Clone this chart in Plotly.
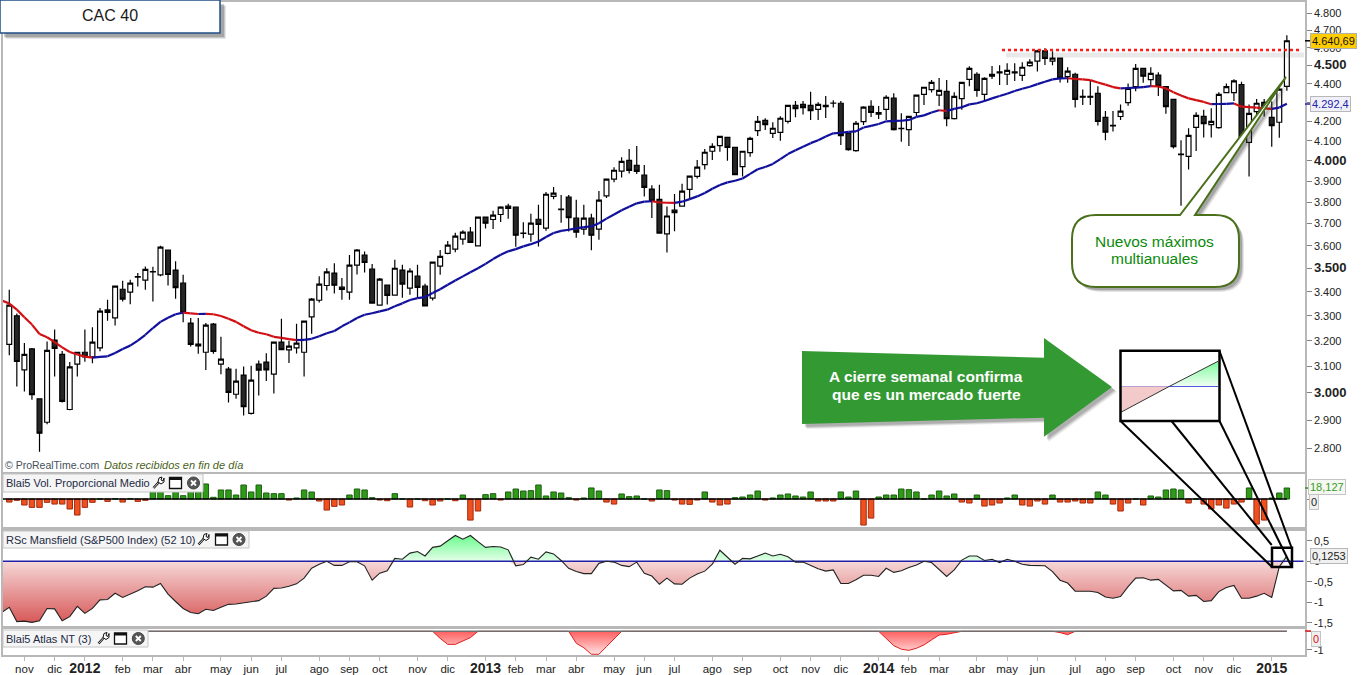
import numpy as np
import plotly.graph_objects as go
from plotly.subplots import make_subplots

W, H = 1361, 675
FONT = "Liberation Sans"
weeks = list(range(170))
lead_weeks = [-1] + weeks

open_vals = [
    3186, 3301, 3087, 3168, 2978, 2893, 3203, 3147, 2939, 3109,
    3155, 3137, 3172, 3325, 3292, 3411, 3399, 3463, 3450, 3485,
    3472, 3581, 3493, 3437, 3271, 3180, 3155, 3267, 3109, 3090,
    2995, 3067, 2925, 3109, 3117, 3071, 3195, 3164, 3172, 3155,
    3296, 3365, 3427, 3480, 3420, 3399, 3515, 3559, 3497, 3345,
    3429, 3386, 3493, 3416, 3467, 3424, 3374, 3510, 3566, 3585,
    3630, 3661, 3599, 3730, 3719, 3742, 3781, 3776, 3655, 3652,
    3720, 3679, 3827, 3765, 3824, 3725, 3675, 3725, 3675, 3829,
    3910, 3949, 4002, 3977, 3929, 3862, 3813, 3653, 3762, 3781,
    3860, 3923, 3981, 4047, 4075, 4117, 4067, 3971, 4040, 4152,
    4205, 4138, 4143, 4200, 4284, 4289, 4284, 4263, 4284, 4295,
    4295, 4139, 4050, 4198, 4279, 4237, 4263, 4322, 4162, 4157,
    4246, 4343, 4368, 4338, 4359, 4214, 4320, 4424, 4452, 4343,
    4452, 4465, 4452, 4465, 4446, 4500, 4525, 4583, 4525, 4542,
    4439, 4452, 4332, 4332, 4348, 4221, 4179, 4225, 4298, 4384,
    4485, 4423, 4448, 4384, 4316, 4030, 4021, 4169, 4226, 4183,
    4167, 4352, 4352, 4396, 4092, 4251, 4300, 4221, 4195, 4386,
]
high_vals = [
    3409, 3310, 3191, 3172, 2978, 3197, 3245, 3160, 3117, 3155,
    3245, 3254, 3333, 3367, 3426, 3447, 3451, 3480, 3509, 3507,
    3600, 3582, 3532, 3473, 3292, 3292, 3271, 3271, 3216, 3098,
    3091, 3100, 3103, 3123, 3151, 3195, 3289, 3200, 3268, 3279,
    3374, 3466, 3501, 3523, 3459, 3559, 3585, 3574, 3519, 3459,
    3430, 3538, 3516, 3501, 3516, 3434, 3528, 3581, 3621, 3658,
    3670, 3685, 3730, 3730, 3759, 3781, 3792, 3776, 3706, 3745,
    3788, 3848, 3872, 3834, 3833, 3811, 3788, 3745, 3853, 3911,
    3968, 4017, 4058, 4073, 3979, 3880, 3882, 3779, 3838, 3887,
    3926, 4003, 4058, 4087, 4124, 4119, 4070, 4047, 4121, 4228,
    4216, 4195, 4226, 4286, 4307, 4307, 4356, 4300, 4334, 4311,
    4307, 4141, 4202, 4279, 4311, 4281, 4338, 4349, 4242, 4226,
    4338, 4381, 4420, 4431, 4420, 4354, 4407, 4496, 4463, 4435,
    4498, 4502, 4513, 4513, 4519, 4536, 4589, 4598, 4581, 4544,
    4491, 4461, 4369, 4420, 4387, 4254, 4254, 4289, 4402, 4509,
    4485, 4491, 4463, 4387, 4318, 4103, 4164, 4247, 4260, 4269,
    4354, 4402, 4424, 4411, 4289, 4318, 4318, 4304, 4375, 4672,
]
low_vals = [
    3143, 3024, 3005, 2975, 2789, 2886, 3062, 2965, 2936, 3062,
    3118, 3112, 3159, 3281, 3261, 3360, 3348, 3423, 3409, 3360,
    3466, 3427, 3371, 3274, 3178, 3149, 3086, 3149, 3070, 2965,
    2978, 2917, 2921, 2990, 3045, 2998, 3164, 3113, 3150, 3062,
    3228, 3356, 3406, 3393, 3367, 3367, 3474, 3483, 3352, 3344,
    3347, 3385, 3375, 3388, 3374, 3340, 3364, 3473, 3562, 3571,
    3604, 3613, 3597, 3678, 3676, 3708, 3722, 3596, 3633, 3618,
    3597, 3667, 3813, 3704, 3664, 3636, 3649, 3580, 3627, 3819,
    3894, 3918, 3937, 3935, 3827, 3726, 3655, 3570, 3665, 3780,
    3814, 3913, 3956, 4003, 4045, 4000, 3931, 3923, 4020, 4124,
    4155, 4114, 4100, 4188, 4221, 4235, 4207, 4207, 4217, 4272,
    4079, 4050, 4045, 4181, 4223, 4212, 4207, 4152, 4095, 4073,
    4225, 4286, 4352, 4281, 4175, 4210, 4260, 4387, 4330, 4304,
    4426, 4393, 4393, 4415, 4415, 4494, 4467, 4504, 4502, 4407,
    4405, 4272, 4286, 4286, 4178, 4103, 4147, 4207, 4282, 4359,
    4405, 4389, 4334, 4239, 4061, 3783, 3956, 4048, 4117, 4117,
    4162, 4348, 4307, 4095, 3922, 4225, 4225, 4070, 4115, 4362,
]
close_vals = [
    3345, 3119, 3147, 2994, 2854, 3162, 3170, 2969, 3098, 3155,
    3137, 3195, 3320, 3315, 3424, 3370, 3437, 3465, 3496, 3487,
    3594, 3474, 3418, 3315, 3186, 3187, 3263, 3158, 3128, 3002,
    3044, 2949, 3048, 3086, 3087, 3195, 3165, 3179, 3191, 3279,
    3370, 3433, 3485, 3428, 3410, 3515, 3581, 3526, 3353, 3454,
    3385, 3501, 3433, 3489, 3419, 3341, 3528, 3553, 3603, 3643,
    3661, 3615, 3730, 3702, 3739, 3776, 3770, 3647, 3657, 3702,
    3696, 3837, 3842, 3767, 3728, 3661, 3725, 3647, 3809, 3910,
    3953, 3997, 3952, 3947, 3870, 3805, 3657, 3735, 3751, 3852,
    3924, 3968, 4042, 4072, 4122, 4067, 3932, 4047, 4112, 4200,
    4183, 4164, 4216, 4284, 4266, 4272, 4256, 4289, 4277, 4296,
    4126, 4055, 4190, 4274, 4246, 4246, 4327, 4157, 4164, 4226,
    4338, 4381, 4407, 4364, 4214, 4332, 4407, 4485, 4364, 4429,
    4441, 4459, 4474, 4459, 4491, 4519, 4583, 4540, 4542, 4431,
    4469, 4316, 4327, 4327, 4199, 4144, 4176, 4253, 4375, 4485,
    4441, 4457, 4387, 4277, 4070, 4033, 4127, 4231, 4188, 4200,
    4343, 4384, 4416, 4100, 4242, 4295, 4274, 4178, 4371, 4640.69,
]
# moving average, starts one week before the first candle in view
ma_vals = [
    3364, 3351, 3326, 3295, 3265, 3227, 3214, 3195, 3174, 3156,
    3146, 3138, 3134, 3137, 3139, 3152, 3168, 3181, 3201, 3224,
    3251, 3276, 3293, 3307, 3314, 3311, 3308, 3309, 3307, 3300,
    3289, 3276, 3258, 3242, 3232, 3226, 3216, 3212, 3207, 3203,
    3204, 3208, 3218, 3230, 3239, 3258, 3274, 3292, 3305, 3311,
    3319, 3326, 3340, 3352, 3366, 3374, 3378, 3395, 3411, 3430,
    3448, 3466, 3484, 3501, 3520, 3541, 3560, 3575, 3585, 3597,
    3607, 3619, 3639, 3657, 3667, 3672, 3678, 3684, 3687, 3702,
    3723, 3742, 3762, 3778, 3794, 3802, 3804, 3798, 3797, 3796,
    3802, 3814, 3827, 3843, 3863, 3881, 3894, 3902, 3913, 3935,
    3958, 3969, 3984, 4008, 4033, 4052, 4070, 4088, 4103, 4122,
    4138, 4141, 4145, 4148, 4168, 4176, 4186, 4200, 4202, 4203,
    4207, 4223, 4231, 4246, 4258, 4254, 4265, 4274, 4289, 4295,
    4307, 4321, 4334, 4346, 4361, 4373, 4384, 4398, 4411, 4424,
    4429, 4430, 4426, 4424, 4420, 4407, 4395, 4382, 4375, 4377,
    4379, 4382, 4387, 4385, 4375, 4354, 4336, 4321, 4312, 4302,
    4290, 4291, 4292, 4294, 4277, 4274, 4272, 4268, 4265, 4272,
    4292.4,
]
vol_vals = [
    -5, -2.2, -9.9, -13.8, -13.8, -5.5, -8.3, -8.3, -16.5, -26.4,
    -13.8, -5.5, 0, -3.9, 0.3, -5, 0.3, -3.9, -2.2, 12.1,
    13.8, 5.5, 15.4, 5.5, 13.8, 15.4, 24.8, 2.8, 14.9, 14.9,
    6.6, 23.1, 11.6, 23.1, 9.9, 8.8, 8.8, -1.7, 1.7, 14.9,
    11.6, -3.3, -18.2, -12.1, -9.9, 6.6, 16.5, 14.9, 2.2, -1.7,
    -2.8, 8.8, 0, -13.2, 0, -2.8, -9.9, -3.3, 0, -2.8,
    6.6, -34.7, -19.8, 7.2, 8.8, -1.7, 11.6, 16.5, 13.2, 13.8,
    23.1, 5, 11.6, 9.9, 2.2, -1.7, 1.7, 18.2, 13.2, -5,
    -8.3, 8.3, 3.9, 5, 0, -3.3, 14.9, 13.8, -1.7, -8.3,
    -8.8, -1.7, 11.6, -5, -9.9, -8.3, 2.2, 3.3, 6.6, 13.2,
    -1.7, 1.7, 6.6, 8.3, 5, 3.3, 11.6, -3.3, -3.3, -3.3,
    11.6, 3.3, 13.2, -42.9, -31.4, 3.3, 6.6, 6.6, 16.5, 15.4,
    11.6, 0, 6.6, 13.2, 5, 8.3, -5, -6.6, 6.6, -11.6,
    -9.9, -6.6, 1.7, 6.6, -9.9, -11.6, -3.3, -8.3, 6.6, -5,
    -5, -3.3, -6.6, -6.6, 11.6, 6.6, -8.3, -19.8, -6.6, 0,
    -9.9, 5, 3.3, 14.9, 16.5, 14.9, -6.6, 0, -8.3, -16.5,
    -9.9, -14.9, -8.3, -5, 18.2, -41.3, -34.7, 1.7, 9.9, 18.127,
]
# Mansfield relative strength, also starts one week early
rsc_vals = [
    -1.25, -1.12, -1.47, -1.46, -1.49, -1.45, -1.15, -1.16, -1.45, -1.35,
    -1.10, -1.27, -1.15, -0.94, -0.93, -0.78, -0.88, -0.80, -0.72, -0.62,
    -0.63, -0.54, -0.80, -0.98, -1.15, -1.25, -1.28, -1.17, -1.20, -1.12,
    -1.05, -1.04, -1.01, -0.98, -0.96, -0.85, -0.66, -0.65, -0.61, -0.55,
    -0.41, -0.17, -0.07, 0, -0.10, -0.10, -0.01, -0.01, -0.11, -0.46,
    -0.29, -0.23, 0.07, 0.05, 0.20, 0.24, 0.13, 0.34, 0.37, 0.50,
    0.63, 0.54, 0.63, 0.48, 0.34, 0.36, 0.35, 0.28, -0.11, -0.08,
    0.10, 0.05, 0.23, 0.18, 0.02, -0.17, -0.25, -0.30, -0.30, -0.05,
    0, -0.02, -0.10, -0.13, -0.02, -0.29, -0.36, -0.56, -0.41, -0.55,
    -0.56, -0.41, -0.31, -0.24, -0.07, 0.27, 0.10, -0.07, 0.07, 0.06,
    0.13, 0.20, 0.13, 0.17, 0.11, -0.02, -0.02, -0.11, -0.18, -0.24,
    -0.21, -0.54, -0.54, -0.45, -0.34, -0.34, -0.37, -0.17, -0.27, -0.23,
    -0.15, -0.09, 0, -0.03, -0.19, -0.37, -0.21, 0.03, 0.13, 0.13,
    0.02, 0.05, -0.03, 0.05, 0, -0.07, -0.10, -0.10, -0.11, -0.25,
    -0.46, -0.53, -0.73, -0.73, -0.73, -0.76, -0.87, -0.90, -0.86, -0.62,
    -0.41, -0.40, -0.46, -0.44, -0.58, -0.72, -0.71, -0.85, -0.83, -0.98,
    -0.96, -0.74, -0.64, -0.59, -0.90, -0.90, -0.85, -0.78, -0.88, -0.13,
    0.1253,
]
atlas_vals = (
    [0] * 57 + [-0.38, -0.70, -0.70, -0.54, -0.34]
    + [0] * 13 + [-0.64, -0.88, -1.23, -1.23, -0.82, -0.43]
    + [0] * 35 + [-0.38, -0.77, -0.96, -1.02, -0.91, -0.73, -0.46, -0.20, -0.16, -0.07]
    + [0] * 13 + [-0.07, -0.18]
    + [0] * 29
)

tick_weeks = [2, 6, 10, 15, 19, 23, 28, 32, 36, 41, 45, 49, 54, 58, 63, 67, 71, 75, 80, 84, 88,
              93, 97, 102, 106, 110, 115, 119, 123, 128, 132, 136, 141, 145, 149, 154, 158, 162, 167]
tick_labels = ["nov", "dic", "2012", "feb", "mar", "abr", "may", "jun", "jul", "ago", "sep", "oct", "nov", "dic",
               "2013", "feb", "mar", "abr", "may", "jun", "jul", "ago", "sep", "oct", "nov", "dic",
               "2014", "feb", "mar", "abr", "may", "jun", "jul", "ago", "sep", "oct", "nov", "dic", "2015"]
price_ticks = list(range(2800, 4900, 100))
rsc_ticks = [0.5, 0, -0.5, -1, -1.5]
rsc_labels = ["0,5", "0", "-0,5", "-1", "-1,5"]


def px(x):
    return x / W


def py(y):
    return 1 - y / H


def poly(points, dx=0, dy=0):
    return "M" + " L".join(f"{px(x + dx):.5f},{py(y + dy):.5f}" for x, y in points) + " Z"


def domain_y(top, bottom):
    return [py(bottom), py(top)]


fig = make_subplots(rows=4, cols=1, shared_xaxes=True)

fig.add_trace(go.Candlestick(
    x=weeks, open=open_vals, high=high_vals, low=low_vals, close=close_vals,
    increasing=dict(line=dict(color="#000000", width=1.2), fillcolor="#ffffff"),
    decreasing=dict(line=dict(color="#000000", width=1.2), fillcolor="#262626"),
    whiskerwidth=0,
), row=1, col=1)

# average: blue while rising, red while falling
for color, sign in (("#10109c", 1), ("#d01014", -1)):
    seg_x, seg_y = [], []
    for i in range(1, len(ma_vals)):
        if (ma_vals[i] - ma_vals[i - 1]) * sign >= 0:
            seg_x += [lead_weeks[i - 1], lead_weeks[i], None]
            seg_y += [ma_vals[i - 1], ma_vals[i], None]
    fig.add_trace(go.Scatter(x=seg_x, y=seg_y, mode="lines", line=dict(color=color, width=2.2)), row=1, col=1)

fig.add_trace(go.Bar(
    x=weeks, y=vol_vals, width=0.72,
    marker=dict(color=["#2f9a18" if v >= 0 else "#f0501e" for v in vol_vals],
                line=dict(color=["#1c5e10" if v >= 0 else "#a02a10" for v in vol_vals], width=1)),
), row=2, col=1)
fig.add_trace(go.Scatter(x=lead_weeks, y=[0] * len(lead_weeks), mode="lines",
                         line=dict(color="#000000", width=1.5)), row=2, col=1)

rsc = np.array(rsc_vals)
fig.add_trace(go.Scatter(
    x=lead_weeks, y=np.minimum(rsc, 0), mode="lines", fill="tozeroy", line=dict(width=0),
    fillgradient=dict(type="vertical", start=0, stop=-1.45,
                      colorscale=[[0, "#f6d8d8"], [1, "#d85c5c"]]),
), row=3, col=1)
fig.add_trace(go.Scatter(
    x=lead_weeks, y=np.maximum(rsc, 0), mode="lines", fill="tozeroy", line=dict(width=0),
    fillgradient=dict(type="vertical", start=0, stop=0.63,
                      colorscale=[[0, "#e4ffe9"], [1, "#6cfb8e"]]),
), row=3, col=1)
fig.add_trace(go.Scatter(x=[lead_weeks[0], weeks[-1] + 2.2], y=[0, 0], mode="lines",
                         line=dict(color="#2020a8", width=1.5)), row=3, col=1)
fig.add_trace(go.Scatter(x=lead_weeks, y=rsc_vals, mode="lines", line=dict(color="#222222", width=1.1)), row=3, col=1)

fig.add_trace(go.Scatter(
    x=weeks, y=atlas_vals, mode="lines", fill="tozeroy", line=dict(color="#e02020", width=1),
    fillgradient=dict(type="vertical", start=0, stop=-1.25,
                      colorscale=[[0, "#ff5f5f"], [1, "#ffe4e4"]]),
), row=4, col=1)
fig.add_trace(go.Scatter(x=lead_weeks, y=[0] * len(lead_weeks), mode="lines",
                         line=dict(color="#707070", width=1.4)), row=4, col=1)

# magnified view of the last Mansfield segment
inset_x = [weeks[-2], weeks[-2] + 0.5, weeks[-1]]
inset_y = [rsc_vals[-2], 0, rsc_vals[-1]]
fig.add_trace(go.Scatter(x=inset_x[:2], y=inset_y[:2], xaxis="x5", yaxis="y5", mode="lines", fill="tozeroy",
                         fillcolor="#f2caca", line=dict(color="#333333", width=1)))
fig.add_trace(go.Scatter(x=inset_x[1:], y=inset_y[1:], xaxis="x5", yaxis="y5", mode="lines", fill="tozeroy",
                         line=dict(color="#333333", width=1),
                         fillgradient=dict(type="vertical", start=0, stop=0.1253,
                                           colorscale=[[0, "#f0fff3"], [1, "#7dfb9b"]])))

GREY = "#b8b8b8"
x_range = [-0.83, 171.4]
fig.update_xaxes(range=x_range, domain=[px(3), px(1305)], showgrid=False, zeroline=False,
                 showline=True, mirror=True, linecolor=GREY, linewidth=1.5, automargin=False,
                 rangeslider_visible=False, ticks="", showticklabels=False)
fig.update_yaxes(showgrid=False, zeroline=False, side="right", showline=True, mirror=True,
                 linecolor=GREY, linewidth=1.5, ticks="outside", ticklen=5, tickcolor="#808080", automargin=False,
                 tickfont=dict(family=FONT, size=11, color="#222222"))

fig.update_xaxes(row=4, col=1, tickmode="array", tickvals=tick_weeks, ticks="outside", ticklen=4, tickcolor=GREY,
                 showticklabels=True, tickfont=dict(family=FONT, size=11.5, color="#222222"),
                 ticklabelstandoff=-2,
                 ticktext=[f'<b style="font-size:14px">{t}</b>' if t.isdigit() else t for t in tick_labels])
fig.update_yaxes(row=1, col=1, type="log", range=[np.log10(2720), np.log10(4869)], domain=domain_y(2, 472),
                 tickmode="array", tickvals=price_ticks,
                 ticktext=[(f"<b style='font-size:13px'>{v // 1000}.{v % 1000:03d}</b>" if v % 500 == 0
                            else f"{v // 1000}.{v % 1000:03d}") for v in price_ticks])
fig.update_yaxes(row=2, col=1, range=[-46.1, 41.2], domain=domain_y(474, 527),
                 tickmode="array", tickvals=[0, vol_vals[-1]], ticktext=["", ""])
fig.update_yaxes(row=3, col=1, range=[-1.578, 0.739], domain=domain_y(531, 626),
                 tickmode="array", tickvals=rsc_ticks, ticktext=rsc_labels)
fig.update_yaxes(row=4, col=1, range=[-1.27, 0.123], domain=domain_y(629, 655),
                 tickmode="array", tickvals=[0, -1], ticktext=["", "-1"])

shapes = []


def add_shape(path, fill=None, line=None, width=1):
    shapes.append(dict(type="path", path=path, xref="paper", yref="paper",
                       fillcolor=fill or "rgba(0,0,0,0)",
                       line=dict(color=line or "rgba(0,0,0,0)", width=width if line else 0)))


def add_line(x0, y0, x1, y1, color="#000000", width=2, dash=None):
    shapes.append(dict(type="line", xref="paper", yref="paper", x0=px(x0), y0=py(y0), x1=px(x1), y1=py(y1),
                       line=dict(color=color, width=width, dash=dash or "solid")))


def add_rect(x0, y0, x1, y1, fill=None, line=None, width=1):
    add_shape(poly([(x0, y0), (x1, y0), (x1, y1), (x0, y1)]), fill, line, width)


def shadowed(points, fill):
    for grow, alpha in ((5, 0.10), (4, 0.16), (3, 0.22)):
        add_shape(poly(points, grow, grow), f"rgba(60,60,60,{alpha})")
    add_shape(poly(points), fill)


def callout(x0, y0, x1, y1, r, tail, dx=0, dy=0):
    c = [(x0 + r, y0), tail[0], tail[1], tail[2], (x1 - r, y0)]
    p = "M" + " L".join(f"{px(x + dx):.5f},{py(y + dy):.5f}" for x, y in c)
    corners = [((x1, y0), (x1, y0 + r)), ((x1, y1), (x1 - r, y1)), ((x0, y1), (x0, y1 - r)), ((x0, y0), (x0 + r, y0))]
    nexts = [None, (x1, y1 - r), (x0 + r, y1), (x0, y0 + r)]
    for (ctrl, end), start in zip(corners, nexts):
        if start:
            p += f" L{px(start[0] + dx):.5f},{py(start[1] + dy):.5f}"
        p += (f" Q{px(ctrl[0] + dx):.5f},{py(ctrl[1] + dy):.5f}"
              f" {px(end[0] + dx):.5f},{py(end[1] + dy):.5f}")
    return p + " Z"


def panel_legend(x1, y0, y1, wrench_x, window_x, close_x):
    add_rect(3, y0, x1, y1, "#f5f5f5", "#c4c4c4", 1)
    cy = (y0 + y1) / 2
    # wrench
    add_line(wrench_x + 1.5, cy + 5, wrench_x + 7, cy - 1, "#111111", 2.4)
    add_line(wrench_x + 1.5, cy + 5, wrench_x + 7, cy - 1, "#ffffff", 0.8)
    add_shape(poly([(wrench_x + 6, cy - 1), (wrench_x + 7, cy - 5), (wrench_x + 10, cy - 6),
                    (wrench_x + 9, cy - 3), (wrench_x + 11, cy - 2), (wrench_x + 12, cy - 5),
                    (wrench_x + 12, cy - 1), (wrench_x + 9, cy + 1)]), "#ffffff", "#111111", 1)
    # window
    add_rect(window_x, cy - 5.5, window_x + 12, cy + 5.5, "#ffffff", "#111111", 1.3)
    add_rect(window_x, cy - 5.5, window_x + 12, cy - 3, "#111111")
    # close
    shapes.append(dict(type="circle", xref="paper", yref="paper", x0=px(close_x - 6), x1=px(close_x + 6),
                       y0=py(cy + 6), y1=py(cy - 6), fillcolor="#555555", line=dict(color="#444444", width=1)))
    add_line(close_x - 2.5, cy - 2.5, close_x + 2.5, cy + 2.5, "#ffffff", 1.8)
    add_line(close_x - 2.5, cy + 2.5, close_x + 2.5, cy - 2.5, "#ffffff", 1.8)


# title box
for grow, alpha in ((6, 0.12), (5, 0.18), (4, 0.25)):
    add_rect(grow, grow, 220 + grow, 33 + grow, f"rgba(60,60,60,{alpha})")
add_rect(0, 0, 220, 33, "#ffffff", "#1f4f86", 1.5)

# resistance level
add_line(1006, 55, 1304, 55, "rgba(120,120,120,0.16)", 5)
add_line(1002, 50, 1300, 50, "#ff1a1a", 2.5, "dot")

# right panel markers
add_line(1305, 40.8, 1311, 40.8, "#000000", 1.5)
add_line(1305, 104, 1311, 104, "#2222aa", 1.5)
add_line(1305, 631, 1311, 631, "#e02020", 1.5)
add_line(1305, 488, 1309, 488, "#3a9a28", 1.5)

# callout
tail = [(1180, 215), (1286, 77), (1195, 215)]
for grow, alpha in ((5, 0.12), (4, 0.18), (3, 0.25)):
    add_shape(callout(1072, 215, 1239, 287, 24, tail, grow, grow), f"rgba(60,60,60,{alpha})")
add_shape(callout(1072, 215, 1239, 287, 24, tail), "#ffffff", "#4a701c", 2)

# arrow
shadowed([(802, 351), (1044, 357.7), (1044, 338), (1112, 387), (1044, 436.7), (1044, 417.7), (802, 424)], "#339933")

# magnifier
add_rect(1120.5, 350.7, 1219.5, 421, None, "#000000", 2.5)
add_rect(1272, 547.7, 1292, 567, None, "#000000", 2.5)
add_line(1120.5, 421, 1272, 567)
add_line(1171.5, 421, 1271.7, 545)
add_line(1219.5, 421, 1291.7, 567)
add_line(1219.5, 351, 1291.7, 548)

panel_legend(203, 474, 492, 152, 169.5, 193.5)
panel_legend(249, 531, 548, 197, 215.5, 239)
panel_legend(148, 630, 647, 97, 114.5, 138.3)


def text(s, x, y, size=12, color="#222222", anchor="left", bg=None, border=None, pad=1):
    return dict(text=s, xref="paper", yref="paper", x=px(x), y=py(y), xanchor=anchor, yanchor="middle",
                showarrow=False, font=dict(family=FONT, size=size, color=color),
                bgcolor=bg or "rgba(0,0,0,0)", bordercolor=border or "rgba(0,0,0,0)",
                borderwidth=1 if border else 0, borderpad=pad)


annotations = [
    text("CAC 40", 110, 16, 16, "#1a1a1a", "center"),
    text("© ProRealTime.com", 4, 465, 10.5, "#44505c"),
    text("<i>Datos recibidos en fin de día</i>", 103, 465, 11, "#4a5f20"),
    text("Nuevos máximos", 1154, 241, 15.5, "#0a8a0a", "center"),
    text("multianuales", 1154, 259, 15.5, "#0a8a0a", "center"),
    text("<b>A cierre semanal confirma</b>", 926, 376, 15.5, "#ffffff", "center"),
    text("<b>que es un mercado fuerte</b>", 926, 395, 15.5, "#ffffff", "center"),
    text("Blai5 Vol. Proporcional Medio", 5, 483, 11, "#1c2a44"),
    text("RSc Mansfield (S&P500 Index) (52 10)", 5, 539.5, 11, "#1c2a44"),
    text("Blai5 Atlas NT (3)", 5, 638.5, 11, "#1c2a44"),
    text("4.640,69", 1310, 41, 11, "#111111", bg="#ffcc00", border="#b0b0b0"),
    text("4.292,4", 1310, 104, 11, "#2222aa", bg="#f0f0fa", border="#b8b8b8"),
    text("18,127", 1308, 487, 11, "#3a9a28", bg="#f4f8f0", border="#c4c4c4"),
    text("0", 1309, 502, 11, "#222222", bg="#f0f0f0", border="#c4c4c4"),
    text("0,1253", 1310, 556, 11, "#222222", bg="#f0f0f0", border="#b8b8b8"),
    text("0", 1311, 639, 11, "#e01010", bg="#f0f0f0", border="#c4c4c4"),
]

fig.update_layout(
    width=W, height=H, margin=dict(l=0, r=0, t=0, b=0), autosize=False,
    paper_bgcolor="#ffffff", plot_bgcolor="#ffffff", showlegend=False, bargap=0.28,
    boxgap=0.2, boxgroupgap=0.2,
    shapes=shapes, annotations=annotations, hovermode=False,
    xaxis5=dict(domain=[px(1121), px(1218)], anchor="y5", range=[inset_x[0], inset_x[-1]], visible=False),
    yaxis5=dict(domain=domain_y(351, 421), anchor="x5", range=[-0.174, 0.177], showticklabels=False, ticks="",
                showgrid=False, showline=False, zeroline=True, zerolinecolor="#2020e0", zerolinewidth=1.2,
                automargin=False),
)

fig.write_html(
    "out.html",
    config={"displayModeBar": False},
    post_script="document.body.style.margin='0';document.documentElement.style.overflow='hidden';",
)
